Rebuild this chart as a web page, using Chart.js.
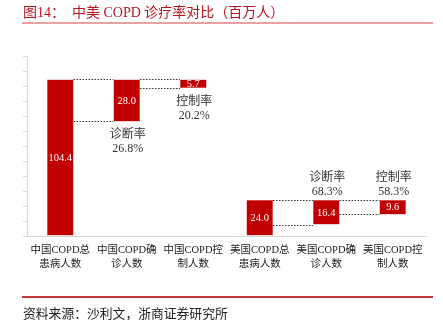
<!DOCTYPE html>
<html>
<head>
<meta charset="utf-8">
<script src="https://cdn.jsdelivr.net/npm/chart.js@4.4.0/dist/chart.umd.min.js"></script>
<style>
  body { margin: 0; background: #fff; }
  #wrap { position: relative; width: 443px; height: 327px; overflow: hidden; font-family: 'Liberation Serif', 'Noto Sans CJK SC', serif; }
  #myChart { position: absolute; left: 0; top: 0; }
  .title { position: absolute; left: 23px; top: 1px; font-size: 14px; color: #b8141c; white-space: pre; }
  .title-line { position: absolute; left: 22px; top: 22px; width: 411px; height: 2px; background: #e6a1a1; }
  .foot-line { position: absolute; left: 22px; top: 296px; width: 411px; height: 1.5px; background: #c4373a; }
  .source { position: absolute; left: 23px; top: 303px; font-size: 12.8px; color: #222; white-space: pre; }
</style>
</head>
<body>
<div id="wrap">
  <canvas id="myChart" width="443" height="327"></canvas>
  <div class="title"><span>图14：</span><span style="margin-left:7px">中美 COPD 诊疗率对比（百万人）</span></div>
  <div class="title-line"></div>
  <div class="foot-line"></div>
  <div class="source">资料来源：沙利文，浙商证券研究所</div>
</div>
<script>
// categories (two-line tick labels)
var categories = [
    ['中国COPD总', '患病人数'],
    ['中国COPD确', '诊人数'],
    ['中国COPD控', '制人数'],
    ['美国COPD总', '患病人数'],
    ['美国COPD确', '诊人数'],
    ['美国COPD控', '制人数']
];
// people, millions
var values = [104.4, 28.0, 5.7, 24.0, 16.4, 9.6];
// each group's total, bars hang down from it
var groupTop = [104.4, 104.4, 104.4, 24.0, 24.0, 24.0];
var group = ['cn', 'cn', 'cn', 'us', 'us', 'us'];
var rateNames = ['', '诊断率', '控制率', '', '诊断率', '控制率'];
var rateValues = ['', '26.8%', '20.2%', '', '68.3%', '58.3%'];
var yMax = 120;
var yStep = 10;

var ranges = Array();
for (let i = 0; i < values.length; i++) {
    ranges[i] = [groupTop[i] - values[i], groupTop[i]];
}

var serif = "'Liberation Serif', 'Noto Sans CJK SC', serif";

var extras = {
    id: 'extras',
    afterDatasetsDraw(chart) {
        var ctx = chart.ctx;
        var meta = chart.getDatasetMeta(0);
        var y = chart.scales.y;
        ctx.save();

        // dotted connectors
        ctx.strokeStyle = '#333';
        ctx.lineWidth = 1;
        ctx.setLineDash([1.5, 1.5]);
        for (let i = 0; i < meta.data.length - 1; i++) {
            if (group[i] !== group[i + 1]) continue;
            var a = meta.data[i], b = meta.data[i + 1];
            var x1 = a.x + a.width / 2, x2 = b.x - b.width / 2;
            ranges[i + 1].forEach(function (v) {
                var yy = Math.round(y.getPixelForValue(v)) + 0.5;
                ctx.beginPath();
                ctx.moveTo(x1, yy);
                ctx.lineTo(x2, yy);
                ctx.stroke();
            });
        }
        ctx.setLineDash([]);

        // values inside bars
        ctx.textAlign = 'center';
        ctx.textBaseline = 'middle';
        ctx.fillStyle = '#fff';
        ctx.font = '10.5px ' + serif;
        meta.data.forEach(function (bar, i) {
            ctx.fillText(values[i].toFixed(1), bar.x, (bar.y + bar.base) / 2 + 0.5);
        });

        // rate annotations
        ctx.fillStyle = '#333';
        ctx.font = '12px ' + serif;
        meta.data.forEach(function (bar, i) {
            if (!rateNames[i]) return;
            var top = Math.min(bar.y, bar.base), bottom = Math.max(bar.y, bar.base);
            var y1, y2;
            if (groupTop[i] > yMax / 2) {
                y1 = bottom + 13.5; y2 = y1 + 14;
            } else {
                y2 = top - 8.5; y1 = y2 - 14;
            }
            ctx.fillText(rateNames[i], bar.x + 1, y1);
            ctx.fillText(rateValues[i], bar.x + 1, y2);
        });
        ctx.restore();
    }
};

var ctx = document.getElementById('myChart').getContext('2d');
var chart = new Chart(ctx, {
    type: 'bar',
    data: {
        labels: categories,
        datasets: [{
            data: ranges,
            backgroundColor: '#c00000',
            borderColor: '#d84848',
            borderWidth: 0.5,
            borderSkipped: false,
            barPercentage: 0.4,
            categoryPercentage: 1.0
        }]
    },
    options: {
        responsive: false,
        animation: false,
        devicePixelRatio: 1,
        layout: { padding: { left: 23, right: 17, top: 56, bottom: 51 } },
        plugins: {
            legend: { display: false },
            tooltip: { enabled: false }
        },
        scales: {
            x: {
                grid: { display: false, drawTicks: false },
                border: { display: true, color: '#d9d9d9', width: 1 },
                ticks: {
                    color: '#222',
                    padding: 7,
                    maxRotation: 0,
                    autoSkip: false,
                    font: { family: serif, size: 10.5, lineHeight: 1.35 }
                },
                afterFit: function (s) { s.height = 40; }
            },
            y: {
                min: 0,
                max: yMax,
                ticks: { display: false, stepSize: yStep },
                grid: { display: true, drawOnChartArea: false, drawTicks: true, tickLength: 4, color: '#d9d9d9' },
                border: { display: true, color: '#d9d9d9', width: 1 },
                afterFit: function (s) { s.width = 4; }
            }
        }
    },
    plugins: [extras]
});
</script>
</body>
</html>
